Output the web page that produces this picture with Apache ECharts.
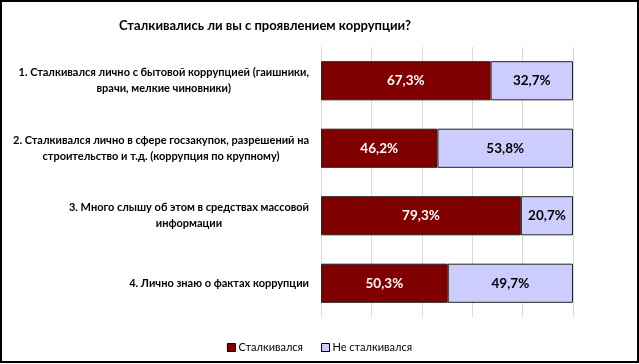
<!DOCTYPE html>
<html><head><meta charset="utf-8">
<script src="https://cdn.jsdelivr.net/npm/echarts@6/dist/echarts.min.js"></script>
<style>html,body{margin:0;padding:0;background:#fff}#c{width:639px;height:364px}</style>
</head><body><div id="c"></div>
<script>
var categories = [
  "1. Сталкивался лично с бытовой коррупцией (гаишники,\nврачи, мелкие чиновники)",
  "2. Сталкивался лично в сфере госзакупок, разрешений на\nстроительство и т.д. (коррупция по крупному)",
  "3. Много слышу об этом в средствах массовой\nинформации",
  "4. Лично знаю о фактах коррупции"
];
var seriesNames = ["Сталкивался", "Не сталкивался"];
var faced = [67.3, 46.2, 79.3, 50.3];
var notFaced = [32.7, 53.8, 20.7, 49.7];
var titleText = "Сталкивались ли вы с проявлением коррупции?";

var FONT = "Lato";
function pct(p){ return p.value.toFixed(1).replace('.', ',') + '%'; }
var chart = echarts.init(document.getElementById('c'));
chart.setOption({
  backgroundColor: '#fff',
  animation: false,
  title: {
    text: titleText, left: 260, top: 14, textAlign: 'center',
    textStyle: {fontFamily: FONT, fontWeight: 'bold', fontSize: 13, color: '#000'}
  },
  legend: {
    data: seriesNames, left: 'center', top: 337, itemWidth: 8, itemHeight: 8, itemGap: 18,
    icon: 'rect',
    textStyle: {fontFamily: FONT, fontSize: 11, color: '#000', padding: [0, 0, 0, -2]},
    itemStyle: {borderColor: '#000', borderWidth: 1}
  },
  grid: {left: 321, right: 66, top: 47, bottom: 47},
  xAxis: {
    type: 'value', min: 0, max: 100, interval: 20,
    axisLabel: {show: false}, axisTick: {show: false}, axisLine: {show: false},
    splitLine: {show: true, lineStyle: {color: '#d9d9d9', width: 1}}
  },
  yAxis: {
    type: 'category', data: categories, inverse: true,
    axisLine: {show: false}, axisTick: {show: false},
    axisLabel: {
      margin: 12, align: 'right',
      formatter: function(v){ return v.split('\n').map(function(s){ return '{c|' + s + '}'; }).join('\n'); },
      rich: {c: {align: 'center', fontFamily: FONT, fontWeight: 'bold', fontSize: 11, color: '#000', lineHeight: 16}}
    }
  },
  series: [
    {
      name: seriesNames[0], type: 'bar', stack: 's', data: faced, barWidth: '58%',
      itemStyle: {color: '#800000', borderColor: '#222', borderWidth: 1},
      label: {show: true, position: 'inside', formatter: pct, color: '#fff', fontFamily: FONT, fontWeight: 'bold', fontSize: 13.5}
    },
    {
      name: seriesNames[1], type: 'bar', stack: 's', data: notFaced, barWidth: '58%',
      itemStyle: {color: '#ccccff', borderColor: '#222', borderWidth: 1},
      label: {show: true, position: 'inside', formatter: pct, color: '#000', fontFamily: FONT, fontWeight: 'bold', fontSize: 13.5}
    }
  ],
  graphic: [{
    type: 'rect', shape: {x: 1, y: 1, width: 637, height: 361},
    style: {fill: null, stroke: '#000', lineWidth: 2}, z: 100
  }]
});
</script></body></html>
